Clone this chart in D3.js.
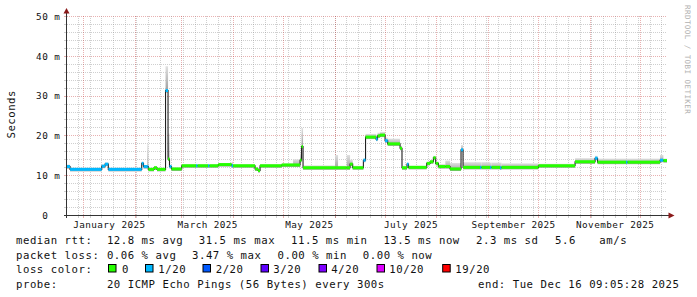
<!DOCTYPE html>
<html><head><meta charset="utf-8">
<script src="https://cdn.jsdelivr.net/npm/d3@7"></script>
<style>
html,body{margin:0;padding:0;background:#fff;}
svg{display:block;}
text{font-family:"DejaVu Sans Mono",monospace;white-space:pre;}
</style></head><body>
<svg id="c" width="697" height="297"></svg>
<script>
// ---- data ----
const rangeStart = "2024-12-22 02";
const rangeEnd = "2025-12-17 02";
const segStart = ["2024-12-22 02","2024-12-23 22","2025-01-11 22","2025-01-13 22","2025-01-15 21","2025-02-04 22","2025-02-06 00","2025-02-08 07","2025-02-08 21","2025-02-12 07","2025-02-14 02","2025-02-19 05","2025-02-20 17","2025-02-21 14","2025-02-22 19","2025-02-28 22","2025-03-09 12","2025-03-10 10","2025-03-16 17","2025-03-17 14","2025-03-22 21","2025-03-30 22","2025-03-31 17","2025-04-13 22","2025-04-15 17","2025-04-16 22","2025-04-29 22","2025-05-06 17","2025-05-10 22","2025-05-11 19","2025-05-12 17","2025-05-31 22","2025-06-02 17","2025-06-07 22","2025-06-09 22","2025-06-11 12","2025-06-17 22","2025-06-19 05","2025-06-25 12","2025-06-26 10","2025-06-27 22","2025-06-30 22","2025-07-02 12","2025-07-09 22","2025-07-11 02","2025-07-14 02","2025-07-15 00","2025-07-25 22","2025-07-27 22","2025-07-29 22","2025-07-31 07","2025-08-01 22","2025-08-06 02","2025-08-08 22","2025-08-15 12","2025-08-16 17","2025-08-26 22","2025-08-27 19","2025-09-01 22","2025-09-02 19","2025-09-07 22","2025-09-08 19","2025-09-30 22","2025-10-22 22","2025-11-03 22","2025-11-05 10","2025-11-22 12","2025-11-23 10","2025-12-12 22","2025-12-14 22"];
const medianMs = [12.3,11.6,12.4,12.9,11.6,13.1,12.3,12.3,11.6,12.0,11.6,31.4,14.2,12.3,11.7,12.5,12.5,12.5,12.5,12.5,12.8,12.5,12.5,11.7,11.3,12.5,12.7,12.7,13.9,17.3,12.0,12.0,12.0,12.0,12.9,12.0,13.9,19.7,19.2,20.0,20.2,18.8,18.0,16.9,12.0,12.9,12.1,13.1,13.5,14.5,13.1,12.3,12.3,11.7,16.5,12.1,12.1,12.1,12.1,12.1,12.0,12.1,12.5,13.5,14.4,13.4,13.4,13.4,13.9,13.8];
const lossCount = [1,1,1,1,1,1,1,1,0,0,0,1,0,1,0,0,1,0,1,0,0,1,0,0,0,0,0,0,0,0,0,0,0,0,0,0,1,0,1,0,0,1,0,0,0,1,0,0,0,0,0,0,0,0,1,0,1,0,1,0,1,0,0,0,1,0,1,0,1,0];
const smokeHighMs = [12.8,12.0,12.8,13.3,12.0,13.5,12.7,18.0,12.0,12.4,12.0,37.5,20.6,12.7,12.1,12.9,12.9,12.9,12.9,12.9,13.1,13.5,12.9,12.1,11.8,12.9,13.1,14.1,15.6,22.0,12.6,15.2,12.5,15.2,14.0,12.5,14.3,20.5,20.3,20.8,21.0,19.6,19.3,17.5,12.5,13.2,12.5,13.5,13.9,15.0,13.5,12.9,13.8,13.2,17.7,13.4,13.4,13.4,13.3,13.3,13.3,13.1,13.0,14.4,15.0,14.3,14.3,14.3,15.2,14.3];

const yTickValues = [0,10,20,30,40,50];
const yTickLabels = [" 0  ","10 m","20 m","30 m","40 m","50 m"];
const xMonthLabels = ["January 2025","March 2025","May 2025","July 2025","September 2025","November 2025"];
const xMonthLabelAt = ["2025-01-16 12","2025-03-16 12","2025-05-16 12","2025-07-16 12","2025-09-16 00","2025-11-16 00"];

const lossLevels = [0,1,2,3,4,10,19];
const lossColors = ["#26ff00","#00b8ff","#0059ff","#5e00ff","#7e00ff","#dd00ff","#ff0000"];
const lossLabels = ["0","1/20","2/20","3/20","4/20","10/20","19/20"];

const rttRow = ["median rtt:","12.8 ms avg","31.5 ms max","11.5 ms min","13.5 ms now","2.3 ms sd","5.6","am/s"];
const lossRow = ["packet loss:","0.06 % avg","3.47 % max","0.00 % min","0.00 % now"];
const probeRow = ["probe:","20 ICMP Echo Pings (56 Bytes) every 300s","end: Tue Dec 16 09:05:28 2025"];
const yAxisTitle = "Seconds";
const watermark = "RRDTOOL / TOBI OETIKER";

// ---- drawing ----
const parseT = d3.utcParse("%Y-%m-%d %H");
const svg = d3.select("#c");
const t0 = parseT(rangeStart), t1 = parseT(rangeEnd);
const x = d3.scaleUtc().domain([t0, t1]).range([67, 667]);
const y = d3.scaleLinear().domain([0, 50]).range([215.5, 16.5]);
const crisp = v => Math.floor(v) + 0.5;
const colorOf = n => lossColors[lossLevels.indexOf(n)];

const defs = svg.append("defs");
const g1 = defs.append("linearGradient").attr("id","smk").attr("x1",0).attr("y1",0).attr("x2",0).attr("y2",1);
g1.append("stop").attr("offset","0").attr("stop-color","#e0e0e0");
g1.append("stop").attr("offset","1").attr("stop-color","#9a9a9a");

const grid = svg.append("g");
const minorC = "rgba(140,140,140,0.42)", majorC = "rgba(190,40,40,0.36)";
// horizontal grid
d3.range(2, 51, 2).forEach(v => {
  const major = v % 10 === 0;
  const yy = crisp(y(v));
  grid.append("line").attr("x1",67).attr("x2",667).attr("y1",yy).attr("y2",yy)
    .attr("stroke", major ? majorC : minorC).attr("stroke-dasharray","1,1");
  grid.append("line").attr("x1",64).attr("x2",67).attr("y1",yy).attr("y2",yy)
    .attr("stroke", major ? majorC : minorC);
});
// vertical grid
const weeks = d3.utcSunday.range(t0, t1);
const months = d3.utcMonth.range(d3.utcDay.offset(t0,1), t1);
weeks.forEach(d => {
  const xx = crisp(x(d));
  grid.append("line").attr("x1",xx).attr("x2",xx).attr("y1",16).attr("y2",215)
    .attr("stroke", minorC).attr("stroke-dasharray","1,1");
  grid.append("line").attr("x1",xx).attr("x2",xx).attr("y1",215).attr("y2",218).attr("stroke", minorC);
});
months.forEach(d => {
  const xx = crisp(x(d));
  grid.append("line").attr("x1",xx).attr("x2",xx).attr("y1",16).attr("y2",215)
    .attr("stroke", majorC).attr("stroke-dasharray","1,1");
  grid.append("line").attr("x1",xx).attr("x2",xx).attr("y1",215).attr("y2",218).attr("stroke", majorC);
});

// segments
const segs = segStart.map((s,i) => ({
  a: parseT(s),
  b: i + 1 < segStart.length ? parseT(segStart[i+1]) : t1,
  m: medianMs[i], loss: lossCount[i], hi: smokeHighMs[i]
}));

// smoke
svg.append("g").selectAll("rect").data(segs).join("rect")
  .attr("x", d => x(d.a)).attr("width", d => Math.max(1, x(d.b) - x(d.a)))
  .attr("y", d => y(d.hi)).attr("height", d => Math.max(0, y(d.m) + 2 - y(d.hi)))
  .attr("fill", "url(#smk)");

// median line (dark) as steps
const pts = segs.map(d => [d.a, d.m]).concat([[t1, segs[segs.length-1].m]]);
svg.append("path").attr("d", d3.line().x(d => x(d[0])).y(d => y(d[1])).curve(d3.curveStepAfter)(pts))
  .attr("fill","none").attr("stroke","#202020").attr("stroke-width",1.1);

// loss colored band
svg.append("g").selectAll("rect").data(segs).join("rect")
  .attr("x", d => x(d.a)).attr("width", d => Math.max(1, x(d.b) - x(d.a)))
  .attr("y", d => y(d.m) - 1.5).attr("height", 3)
  .attr("fill", d => colorOf(d.loss));

// axes
svg.append("line").attr("x1",66.5).attr("x2",66.5).attr("y1",218).attr("y2",12).attr("stroke","#333");
svg.append("line").attr("x1",64).attr("x2",669).attr("y1",215.5).attr("y2",215.5).attr("stroke","#333");
svg.append("path").attr("d","M66.5,8L63.5,13.5L69.5,13.5Z").attr("fill","#8b1a1a");
svg.append("path").attr("d","M674.5,215.5L668.5,212.5L668.5,218.5Z").attr("fill","#8b1a1a");

// y tick labels
svg.append("g").selectAll("text").data(yTickValues).join("text")
  .attr("x", 60.2).attr("y", d => y(d) + 3.3).attr("text-anchor","end")
  .style("font-size","9.33px").style("letter-spacing","0.4px").attr("fill","#111")
  .text((d,i) => yTickLabels[i]);

// x month labels
svg.append("g").selectAll("text").data(xMonthLabels).join("text")
  .attr("x", (d,i) => x(parseT(xMonthLabelAt[i]))).attr("y", 227.7).attr("text-anchor","middle")
  .style("font-size","9.33px").style("letter-spacing","0.4px").attr("fill","#111")
  .text(d => d);

// y axis title
svg.append("text").attr("transform","translate(15,114.3) rotate(-90)").attr("text-anchor","middle")
  .style("font-size","10.67px").style("letter-spacing","0.5px").attr("fill","#111").text(yAxisTitle);

// watermark
svg.append("text").attr("transform","translate(685,5) rotate(90)")
  .style("font-size","7.5px").style("letter-spacing","0.45px").attr("fill","#b0b0b0").text(watermark);

// legend
const LF = {"font-size":"10.67px","letter-spacing":"0.53px"};
function rowText(items, xs, yb) {
  items.forEach((t,i) => {
    svg.append("text").attr("x", xs[i]).attr("y", yb).attr("fill","#111")
      .style("font-size",LF["font-size"]).style("letter-spacing",LF["letter-spacing"]).text(t);
  });
}
rowText(rttRow, [16,106.9,198.7,291.1,383.4,476,555,599.3], 244.3);
rowText(lossRow, [16,106.9,192,277.5,362.8], 258.8);
rowText(["loss color:"], [16], 273.3);
rowText(probeRow, [16,106.9,478], 287.8);

const boxX = [108.5,145.5,203,261,319,377,442.7];
const labX = [122,158.3,215.7,273.3,331.3,389.3,455.3];
lossColors.forEach((c,i) => {
  svg.append("rect").attr("x", boxX[i]).attr("y", 264.5).attr("width", 7.5).attr("height", 7.5)
    .attr("fill", c).attr("stroke","#000").attr("stroke-width",1);
  svg.append("text").attr("x", labX[i]).attr("y", 273.3).attr("fill","#111")
    .style("font-size",LF["font-size"]).style("letter-spacing",LF["letter-spacing"]).text(lossLabels[i]);
});
</script>
</body></html>
